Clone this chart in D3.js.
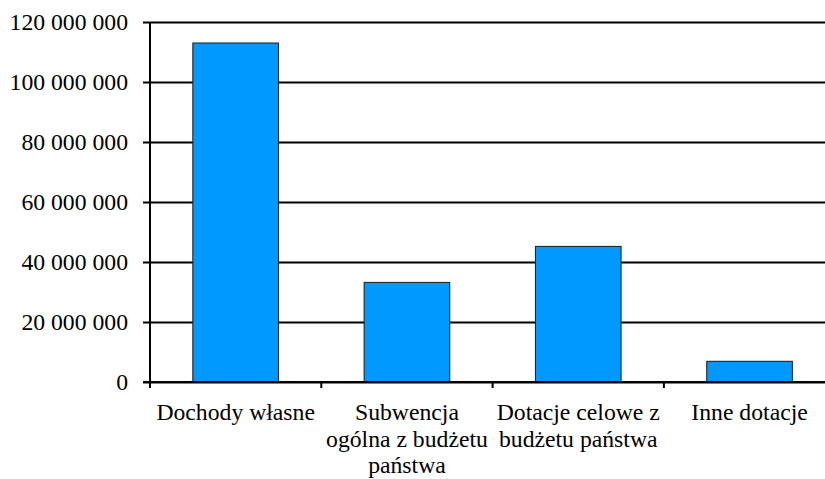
<!DOCTYPE html>
<html>
<head>
<meta charset="utf-8">
<script src="https://cdn.jsdelivr.net/npm/d3@7"></script>
<style>
    body { margin: 0; background: #fff; }
    text { font-family: "Liberation Serif", "Times New Roman", serif; font-size: 23.7px; fill: #000; }
</style>
</head>
<body>
<script>
// chart data
var categories = ["Dochody własne", "Subwencja ogólna z budżetu państwa", "Dotacje celowe z budżetu państwa", "Inne dotacje"];
var values = [113000000, 33200000, 45200000, 6900000];
var yTicks = [0, 20000000, 40000000, 60000000, 80000000, 100000000, 120000000];

var width = 825, height = 479;
var plotLeft = 150, plotTop = 22, plotBottom = 382;
var step = 171.3;

var svg = d3.select("body")
    .append("svg")
    .attr("width", width)
    .attr("height", height)

var x = d3.scaleBand()
    .domain(categories)
    .range([plotLeft, plotLeft + step * categories.length])
    .paddingInner(0.5)
    .paddingOuter(0.25)

var y = d3.scaleLinear()
    .domain([0, 120000000])
    .range([plotBottom, plotTop])

var locale = d3.formatLocale({ decimal: ",", thousands: " ", grouping: [3], currency: ["", ""] });
var fmt = locale.format(",d");

// grid lines
var grid = svg.append("g")
    .attr("transform", "translate(" + plotLeft + ",0)")
    .call(d3.axisLeft(y).tickValues(yTicks).tickSize(-(width - plotLeft)).tickFormat(""))
grid.select(".domain").remove();
grid.selectAll("line").attr("stroke", "#000").attr("stroke-width", 2);

// bars
svg.selectAll("rect.bar")
    .data(values)
    .enter()
    .append("rect")
    .attr("class", "bar")
    .attr("x", function(d, i) { return x(categories[i]) })
    .attr("y", function(d) { return y(d) })
    .attr("width", x.bandwidth())
    .attr("height", function(d) { return y(0) - y(d) })
    .attr("fill", "#0099ff")
    .attr("stroke", "#1a1a1a")
    .attr("stroke-width", 1)

// y axis
var yAxis = svg.append("g")
    .attr("transform", "translate(" + plotLeft + ",0)")
    .call(d3.axisLeft(y).tickValues(yTicks).tickSize(7).tickPadding(15).tickFormat(fmt))
yAxis.select(".domain").attr("stroke-width", 2).attr("d", "M0," + plotTop + "V" + plotBottom);
yAxis.selectAll("line").attr("stroke-width", 2);
yAxis.selectAll("text").attr("font-family", null).attr("font-size", null);
yAxis.attr("font-family", null).attr("font-size", null);

// x axis line and boundary ticks
svg.append("line")
    .attr("x1", plotLeft - 7).attr("x2", width)
    .attr("y1", y(0)).attr("y2", y(0))
    .attr("stroke", "#000").attr("stroke-width", 2)

svg.selectAll("line.xtick")
    .data(categories)
    .enter()
    .append("line")
    .attr("class", "xtick")
    .attr("x1", function(d) { return x(d) - x.step() * 0.25 })
    .attr("x2", function(d) { return x(d) - x.step() * 0.25 })
    .attr("y1", y(0)).attr("y2", y(0) + 6)
    .attr("stroke", "#000").attr("stroke-width", 2)

// category labels
var xAxis = svg.append("g")
    .attr("transform", "translate(0," + y(0) + ")")
    .call(d3.axisBottom(x).tickSize(0).tickPadding(21))
xAxis.attr("font-family", null).attr("font-size", null);
xAxis.select(".domain").remove();
xAxis.selectAll("text").call(wrap, 168);

function wrap(texts, w) {
    texts.each(function() {
        var text = d3.select(this);
        var words = text.text().split(/\s+/);
        var yy = text.attr("y");
        text.text(null);
        var line = [];
        var lineNo = 0;
        var tspan = text.append("tspan").attr("x", 0).attr("y", yy).attr("dy", "0.71em");
        words.forEach(function(word) {
            line.push(word);
            tspan.text(line.join(" "));
            if (tspan.node().getComputedTextLength() > w && line.length > 1) {
                line.pop();
                tspan.text(line.join(" "));
                line = [word];
                lineNo++;
                tspan = text.append("tspan").attr("x", 0).attr("y", yy)
                    .attr("dy", (0.71 * 23.7 + lineNo * 26.8) + "px").text(word);
            }
        });
    });
}
</script>
</body>
</html>
